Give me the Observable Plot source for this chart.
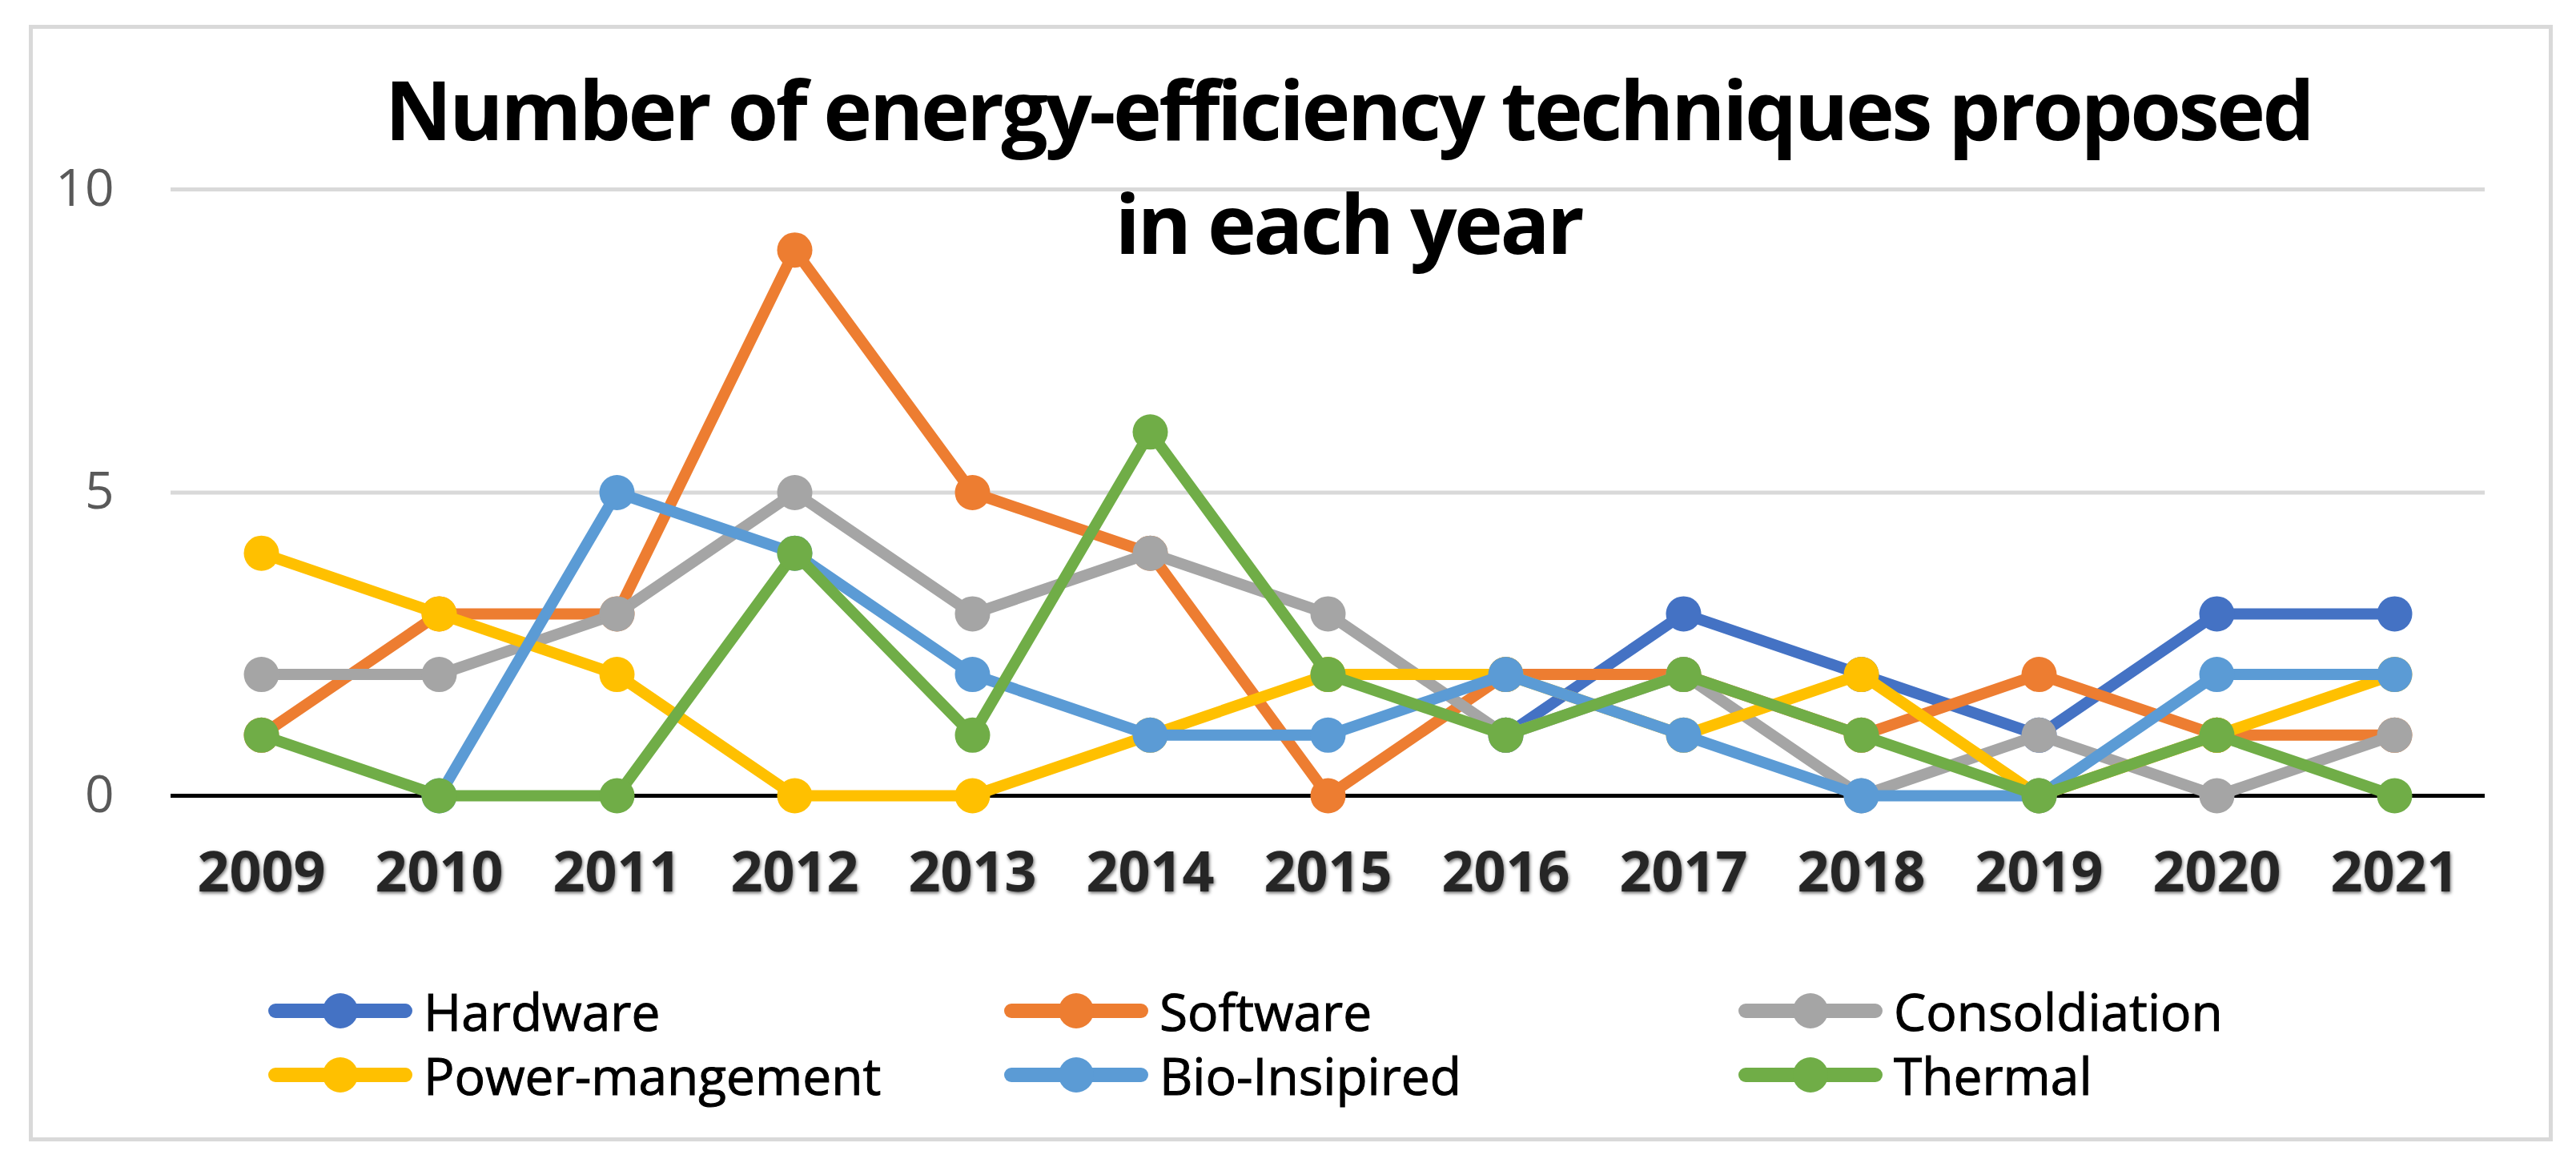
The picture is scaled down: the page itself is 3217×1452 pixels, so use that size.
<!DOCTYPE html>
<html>
<head>
<meta charset="utf-8">
<script src="https://cdn.jsdelivr.net/npm/d3@7"></script>
<script src="https://cdn.jsdelivr.net/npm/@observablehq/plot@0.6"></script>
<style>
  html, body { margin: 0; padding: 0; background: #fff; }
  #wrap { position: relative; width: 3217px; height: 1452px; background: #fff; overflow: hidden; }
  #frame { position: absolute; left: 36px; top: 31px; width: 3142px; height: 1384px; border: 5px solid #d9d9d9; pointer-events: none; }
  #title { position: absolute; left: 0; width: 3368px; top: 64px; text-align: center; font-family: "Open Sans", sans-serif; font-weight: 700; font-size: 103px; line-height: 142px; color: #000; letter-spacing: -3.5px; }
  .legend-item { position: absolute; height: 80px; display: flex; align-items: center; font-family: "Open Sans", sans-serif; font-size: 64px; color: #000; white-space: nowrap; -webkit-text-stroke: 1px #000; }
  .legend-item svg { display: block; margin-right: 14px; }
  .xaxis text { filter: drop-shadow(1px 2px 2px rgba(0,0,0,0.6)); }
</style>
</head>
<body>
<div id="wrap">
  <div id="chart"></div>
  <div id="title">Number of energy-efficiency techniques proposed<br>in each year</div>
  <div id="legend"></div>
  <div id="frame"></div>
</div>
<script>
const years = ["2009","2010","2011","2012","2013","2014","2015","2016","2017","2018","2019","2020","2021"];
const seriesNames = ["Hardware","Software","Consoldiation","Power-mangement","Bio-Insipired","Thermal"];
const seriesColors = ["#4472C4","#ED7D31","#A5A5A5","#FFC000","#5B9BD5","#70AD47"];
const hardware      = [null,null,null,null,null,null,null,1,3,2,1,3,3];
const software      = [1,3,3,9,5,4,0,2,2,1,2,1,1];
const consolidation = [2,2,3,5,3,4,3,1,2,0,1,0,1];
const powerMgmt     = [4,3,2,0,0,1,2,2,1,2,0,1,2];
const bioInspired   = [null,0,5,4,2,1,1,2,1,0,0,2,2];
const thermal       = [1,0,0,4,1,6,2,1,2,1,0,1,0];
const yTicks = [0,5,10];

const seriesValues = [hardware, software, consolidation, powerMgmt, bioInspired, thermal];
const rows = [];
seriesNames.forEach((name, i) => {
  years.forEach((yr, j) => {
    const v = seriesValues[i][j];
    if (v !== null) rows.push({series: name, year: yr, value: v});
  });
});

const seriesMarks = seriesNames.flatMap((name, i) => {
  const d = rows.filter(r => r.series === name);
  return [
    Plot.line(d, {x: "year", y: "value", stroke: seriesColors[i], strokeWidth: 14, strokeLinejoin: "round", strokeLinecap: "round"}),
    Plot.dot(d, {x: "year", y: "value", fill: seriesColors[i], r: 22, stroke: "none"})
  ];
});

const chart = Plot.plot({
  width: 3217,
  height: 1452,
  marginLeft: 213,
  marginRight: 114,
  marginTop: 236,
  marginBottom: 459,
  style: {background: "transparent", fontFamily: "Open Sans, sans-serif"},
  x: {type: "point", domain: years, padding: 0.5},
  y: {domain: [0, 10]},
  marks: [
    Plot.ruleY([5, 10], {stroke: "#d9d9d9", strokeWidth: 5}),
    Plot.ruleY([0], {stroke: "#000", strokeWidth: 5}),
    Plot.axisY({ticks: yTicks, tickSize: 0, tickPadding: 71, fontSize: 64, fill: "#595959", label: null}),
    Plot.axisX({tickSize: 0, tickPadding: 70, fontSize: 70, fontWeight: "bold", fill: "#262626", label: null, className: "xaxis"}),
    ...seriesMarks
  ]
});
document.getElementById("chart").appendChild(chart);

// Legend
const legendPos = [[425,1262],[1344,1262],[2261,1262],[425,1342],[1344,1342],[2261,1342]];
const legend = document.getElementById("legend");
seriesNames.forEach((name, i) => {
  const [cx, cy] = legendPos[i];
  const item = document.createElement("div");
  item.className = "legend-item";
  item.style.left = (cx - 90) + "px";
  item.style.top = (cy - 40) + "px";
  item.innerHTML = `<svg width="180" height="60" viewBox="0 0 180 60"><line x1="9" y1="30" x2="171" y2="30" stroke="${seriesColors[i]}" stroke-width="18" stroke-linecap="round"/><circle cx="90" cy="30" r="22" fill="${seriesColors[i]}"/></svg><span>${name}</span>`;
  legend.appendChild(item);
});
</script>
</body>
</html>
